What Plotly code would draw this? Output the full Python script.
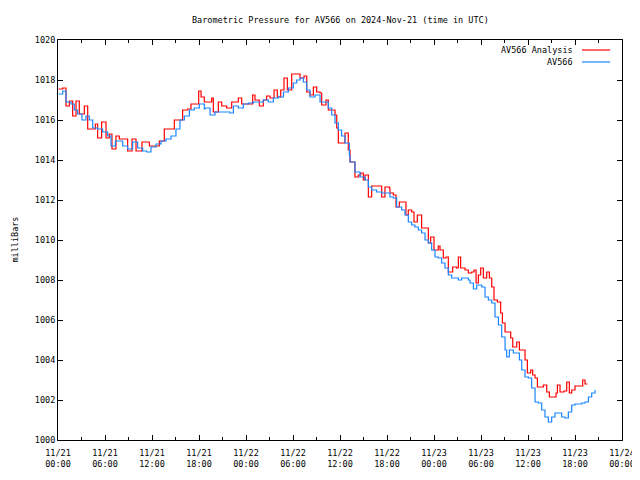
import pandas as pd
import plotly.graph_objects as go

# Hours since 2024-11-21 00:00 UTC and pressure (mb)
blue_hours = [0.08, 0.60, 1.02, 1.66, 2.08, 2.51, 3.06, 3.57, 4.00, 4.43, 5.06, 5.70, 6.34, 6.77, 7.32,
              7.83, 8.26, 8.89, 9.53, 10.17, 10.81, 11.32, 11.87, 12.51, 13.15, 13.79, 14.43, 15.06, 15.57,
              16.13, 16.77, 17.40, 18.04, 18.68, 18.77, 19.41, 20.04, 20.68, 21.32, 21.96, 22.39, 23.02,
              23.66, 24.30, 24.94, 25.58, 26.21, 26.85, 27.49, 28.13, 28.77, 29.41, 30.04, 30.47, 30.90,
              31.32, 31.75, 32.17, 32.81, 33.45, 34.09, 34.51, 34.94, 35.36, 35.79, 36.21, 36.64, 37.19,
              37.28, 37.91, 38.55, 39.19, 39.62, 40.04, 40.68, 41.32, 41.96, 42.38, 42.81, 43.23, 43.87,
              44.30, 44.72, 45.15, 45.57, 46.00, 46.42, 46.85, 47.28, 47.70, 48.13, 48.55, 48.98, 49.40,
              49.83, 50.26, 50.68, 51.11, 51.53, 51.96, 52.38, 52.60, 53.03, 53.45, 54.09, 54.51, 54.94,
              55.37, 55.79, 56.22, 56.64, 57.07, 57.28, 57.62, 58.13, 58.56, 58.90, 59.20, 59.62, 60.05,
              60.47, 60.90, 61.32, 61.75, 62.17, 62.60, 63.02, 63.45, 63.88, 64.30, 64.73, 65.15, 65.58,
              66.00, 66.43, 66.85, 67.28, 67.71, 68.13, 68.56]
blue_mb = [1017.3, 1017.45, 1016.9, 1016.8, 1016.5, 1016.3, 1016.0, 1016.2, 1016.0, 1015.6, 1015.55,
           1015.4, 1015.2, 1014.7, 1014.95, 1014.95, 1014.7, 1014.55, 1014.9, 1014.6, 1014.45, 1014.4,
           1014.65, 1014.8, 1014.95, 1015.05, 1015.2, 1015.55, 1016.0, 1016.2, 1016.5, 1016.6, 1016.8,
           1016.55, 1016.6, 1016.25, 1016.4, 1016.4, 1016.4, 1016.35, 1016.7, 1016.6, 1016.8, 1016.85,
           1016.9, 1016.9, 1017.0, 1016.9, 1017.1, 1017.15, 1017.4, 1017.6, 1017.85, 1018.0, 1018.1,
           1017.9, 1017.5, 1017.15, 1017.25, 1016.9, 1016.9, 1016.6, 1016.25, 1015.85, 1015.5, 1015.2,
           1014.85, 1014.25, 1013.9, 1013.4, 1013.15, 1013.0, 1012.65, 1012.5, 1012.4, 1012.35, 1012.35,
           1012.15, 1012.1, 1011.65, 1011.5, 1011.25, 1010.9, 1010.75, 1010.65, 1010.5, 1010.35, 1010.0,
           1009.85, 1009.5, 1009.15, 1009.1, 1008.85, 1008.6, 1008.25, 1008.1, 1008.1, 1008.0, 1008.1,
           1008.1, 1008.0, 1007.85, 1007.55, 1007.75, 1007.65, 1007.15, 1007.0, 1006.85, 1006.15,
           1005.75, 1005.15, 1004.5, 1004.15, 1004.5, 1004.35, 1004.35, 1004.0, 1003.5, 1003.15, 1003.1,
           1002.6, 1001.9, 1001.85, 1001.5, 1001.15, 1000.9, 1001.15, 1001.35, 1001.35, 1001.15, 1001.1,
           1001.4, 1001.75, 1001.8, 1001.8, 1001.85, 1001.9, 1002.15, 1002.35, 1002.5]

red_hours = [0.08, 0.60, 1.02, 1.45, 1.87, 2.30, 2.72, 3.36, 3.79, 4.21, 4.77, 5.06, 5.57, 6.13, 6.55,
             6.89, 7.40, 7.83, 8.26, 8.89, 9.45, 9.96, 10.38, 10.72, 11.23, 11.66, 12.30, 12.94, 13.57,
             14.21, 14.85, 15.28, 15.91, 16.55, 16.98, 17.62, 17.96, 18.26, 18.68, 18.98, 19.62, 19.83,
             20.47, 20.90, 21.53, 22.17, 22.60, 23.02, 23.45, 24.09, 24.85, 25.15, 25.70, 26.21, 26.64,
             27.07, 27.58, 28.00, 28.43, 28.85, 29.28, 29.83, 30.47, 30.90, 31.41, 31.75, 32.17, 32.60,
             33.02, 33.45, 33.66, 34.21, 34.51, 34.94, 35.36, 35.58, 35.79, 36.21, 36.64, 37.06, 37.28,
             37.91, 38.34, 38.64, 38.98, 39.19, 39.62, 40.04, 40.47, 41.02, 41.32, 41.74, 42.30, 42.38,
             42.81, 43.15, 43.57, 44.08, 44.42, 44.72, 45.15, 45.45, 45.87, 46.42, 46.98, 47.28, 47.57,
             48.00, 48.55, 48.77, 49.19, 49.53, 49.83, 50.38, 50.89, 51.11, 51.40, 51.96, 52.38, 52.81,
             53.11, 53.37, 53.66, 53.96, 54.30, 54.73, 55.07, 55.37, 55.66, 56.09, 56.51, 56.73, 57.07,
             57.49, 57.79, 58.05, 58.56, 58.90, 59.32, 59.62, 59.92, 60.34, 60.60, 60.90, 61.20, 61.54,
             61.96, 62.39, 62.73, 63.15, 63.58, 63.75, 64.09, 64.60, 64.94, 65.28, 65.58, 66.00, 66.43,
             66.98, 67.28, 67.58]
red_mb = [1017.55, 1017.6, 1016.7, 1016.95, 1016.2, 1016.95, 1016.3, 1016.7, 1015.55, 1015.55, 1015.8,
          1015.1, 1015.9, 1015.1, 1015.3, 1014.55, 1015.2, 1015.05, 1015.05, 1014.45, 1015.05, 1014.45,
          1014.45, 1014.9, 1014.9, 1014.7, 1014.7, 1014.95, 1015.55, 1015.55, 1016.0, 1016.0, 1016.5,
          1016.55, 1016.8, 1016.8, 1017.45, 1017.15, 1016.9, 1016.9, 1017.1, 1016.4, 1016.9, 1016.7,
          1016.6, 1016.9, 1016.9, 1017.1, 1016.8, 1016.8, 1017.25, 1017.0, 1016.7, 1017.0, 1017.2,
          1017.1, 1017.5, 1017.15, 1017.5, 1018.1, 1017.5, 1018.3, 1018.3, 1018.1, 1018.2, 1017.4,
          1017.25, 1017.65, 1017.4, 1017.35, 1016.75, 1017.0, 1016.5, 1016.5, 1016.25, 1015.6, 1014.85,
          1014.85, 1015.35, 1014.5, 1013.9, 1013.15, 1013.25, 1013.35, 1013.0, 1013.25, 1012.15, 1012.7,
          1012.7, 1012.7, 1012.15, 1012.65, 1012.6, 1012.35, 1012.25, 1011.65, 1011.9, 1011.9, 1011.25,
          1011.5, 1011.4, 1010.9, 1011.25, 1010.6, 1010.6, 1009.85, 1010.15, 1009.5, 1009.7, 1009.5,
          1009.1, 1009.15, 1008.4, 1008.65, 1008.6, 1009.15, 1008.6, 1008.5, 1008.35, 1008.4, 1008.5,
          1007.85, 1008.25, 1008.6, 1008.1, 1008.4, 1008.1, 1007.65, 1007.0, 1006.9, 1006.35, 1005.85,
          1005.4, 1005.4, 1005.1, 1004.65, 1004.9, 1004.5, 1004.5, 1004.0, 1003.35, 1003.5, 1003.25,
          1003.1, 1002.65, 1002.65, 1002.75, 1002.4, 1002.15, 1002.15, 1002.35, 1002.75, 1002.4,
          1002.45, 1002.9, 1002.35, 1002.5, 1002.7, 1002.7, 1003.0, 1002.8, 1002.8]

start = pd.Timestamp("2024-11-21 00:00")
blue_t = start + pd.to_timedelta(blue_hours, unit="h")
red_t = start + pd.to_timedelta(red_hours, unit="h")

series_names = ["AV566 Analysis", "AV566"]
series_colors = ["#ff0000", "#1a85ff"]

FONT = "DejaVu Sans Mono"
FS = 8.5

fig = go.Figure()
fig.add_trace(go.Scatter(x=red_t, y=red_mb, mode="lines", line=dict(color=series_colors[0], width=1.2, shape="hv"),
                         name=series_names[0], showlegend=False))
fig.add_trace(go.Scatter(x=blue_t, y=blue_mb, mode="lines", line=dict(color=series_colors[1], width=1.2, shape="hv"),
                         name=series_names[1], showlegend=False))

# legend drawn gnuplot-style (text then line sample)
for i, (nm, col) in enumerate(zip(series_names, series_colors)):
    yp = 0.975 - i * 0.03
    fig.add_annotation(xref="paper", yref="paper", x=0.917, y=yp, text=nm, showarrow=False,
                       xanchor="right", yanchor="middle", font=dict(family=FONT, size=FS, color="black"))
    fig.add_shape(type="line", xref="paper", yref="paper", x0=0.929, x1=0.979, y0=yp, y1=yp,
                  line=dict(color=col, width=1.2))

# title and y-axis label
fig.add_annotation(xref="paper", yref="paper", x=0.5, y=1.05, text="Barometric Pressure for AV566 on 2024-Nov-21 (time in UTC)",
                   showarrow=False, xanchor="center", yanchor="middle", font=dict(family=FONT, size=FS, color="black"))
fig.add_annotation(xref="paper", yref="paper", x=-0.077, y=0.5, text="milliBars", textangle=-90,
                   showarrow=False, xanchor="center", yanchor="middle", font=dict(family=FONT, size=FS, color="black"))

# page body has an 8px margin, so the figure is sized to fit the 640x480 window
fig.update_layout(
    width=632, height=472,
    margin=dict(l=50, r=18, t=32, b=40, autoexpand=False),
    paper_bgcolor="white", plot_bgcolor="white",
    font=dict(family=FONT, size=FS, color="black"),
)
fig.update_xaxes(type="date", range=["2024-11-21 00:00", "2024-11-24 00:00"], dtick=6 * 3600 * 1000,
                 tick0="2024-11-21 00:00", tickformat="%m/%d<br>%H:%M", ticks="inside", ticklen=5,
                 tickcolor="black", showline=True, linecolor="black", linewidth=1, mirror="allticks",
                 showgrid=False, zeroline=False, automargin=False, ticklabelstandoff=5,
                 minor=dict(dtick=3 * 3600 * 1000, ticks="inside", ticklen=3, tickcolor="black", showgrid=False))
fig.update_yaxes(range=[1000, 1020], dtick=2, ticks="inside", ticklen=5, tickcolor="black",
                 showline=True, linecolor="black", linewidth=1, mirror="allticks", showgrid=False,
                 zeroline=False, automargin=False)

fig.write_html("out.html")
